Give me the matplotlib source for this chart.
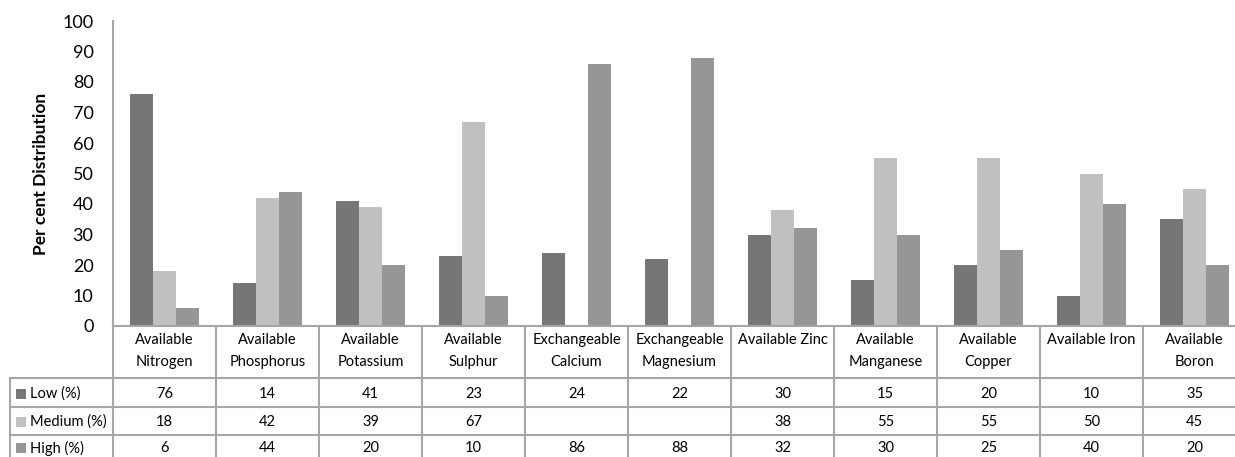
import numpy as np
import matplotlib
matplotlib.use("Agg")
import matplotlib.pyplot as plt
from matplotlib.transforms import blended_transform_factory
from matplotlib.patches import Rectangle

plt.rcParams["font.family"] = ["Lato", "DejaVu Sans"]

categories = ["Available\nNitrogen", "Available\nPhosphorus", "Available\nPotassium",
              "Available\nSulphur", "Exchangeable\nCalcium", "Exchangeable\nMagnesium",
              "Available Zinc", "Available\nManganese", "Available\nCopper",
              "Available Iron", "Available\nBoron"]
series_names = ["Low (%)", "Medium (%)", "High (%)"]
low = [76, 14, 41, 23, 24, 22, 30, 15, 20, 10, 35]
medium = [18, 42, 39, 67, np.nan, np.nan, 38, 55, 55, 50, 45]
high = [6, 44, 20, 10, 86, 88, 32, 30, 25, 40, 20]
colors = ["#767676", "#c0c0c0", "#969696"]

W, H = 1235, 457
fig = plt.figure(figsize=(W / 100, H / 100), dpi=100)

# plot area in pixels (left, zero line, top, column width)
left_px, zero_px, top_px, col_px = 113, 326, 21, 103
n = len(categories)
ax = fig.add_axes([left_px / W, (H - zero_px) / H, n * col_px / W, (zero_px - top_px) / H])
ax.set_xlim(0, n)
ax.set_ylim(0, 100)

x = np.arange(n) + 0.5
bw = 0.225
for k, vals in enumerate([low, medium, high]):
    v = np.array(vals, dtype=float)
    ax.bar(x + (k - 1) * bw, np.nan_to_num(v), width=bw, color=colors[k], linewidth=0)

grid_c = "#a6a6a6"
for s in ["top", "right", "bottom"]:
    ax.spines[s].set_visible(False)
ax.spines["left"].set_color(grid_c)
ax.spines["left"].set_linewidth(1.5)
ax.set_yticks(range(0, 101, 10))
ax.tick_params(axis="y", length=0, labelsize=13, pad=14, labelcolor="#000000")
ax.set_xticks([])
ax.set_ylabel("Per cent Distribution", fontsize=12.5, fontweight="bold", labelpad=10)

# data table below the plot
tr = blended_transform_factory(ax.transData, fig.transFigure)
def fy(py):
    return (H - py) / H

rows_px = [326, 378, 407, 435, 463]
lw = 1.5
fs = 10.5
# horizontal rules across the data columns
for py in rows_px:
    fig.add_artist(plt.Line2D([0, n], [fy(py), fy(py)], transform=tr, color=grid_c,
                              lw=lw, clip_on=False))
# row-label column rules
for py in rows_px[1:]:
    fig.add_artist(plt.Line2D([10 / W, left_px / W], [fy(py), fy(py)],
                              transform=fig.transFigure, color=grid_c, lw=lw))
fig.add_artist(plt.Line2D([10 / W, 10 / W], [fy(rows_px[1]), fy(rows_px[-1])],
                          transform=fig.transFigure, color=grid_c, lw=lw))
# vertical column rules
for i in range(n + 1):
    fig.add_artist(plt.Line2D([i, i], [fy(rows_px[0]), fy(rows_px[-1])], transform=tr,
                              color=grid_c, lw=lw, clip_on=False))

for i, cat in enumerate(categories):
    fig.text(i + 0.5, fy(333), cat, transform=tr, ha="center", va="top",
             fontsize=fs, linespacing=1.75)

for r, (name, vals) in enumerate(zip(series_names, [low, medium, high])):
    ymid = fy((rows_px[r + 1] + rows_px[r + 2]) / 2 + 1) if r < 2 else fy(448)
    fig.add_artist(Rectangle((16 / W, ymid - 5 / H), 10 / W, 10 / H,
                             transform=fig.transFigure, color=colors[r], lw=0))
    fig.text(30 / W, ymid, name, ha="left", va="center", fontsize=fs)
    for i, v in enumerate(vals):
        if not np.isnan(v):
            fig.text(i + 0.5, ymid, f"{int(v)}", transform=tr, ha="center",
                     va="center", fontsize=fs)

fig.savefig("out.png", dpi=100)
